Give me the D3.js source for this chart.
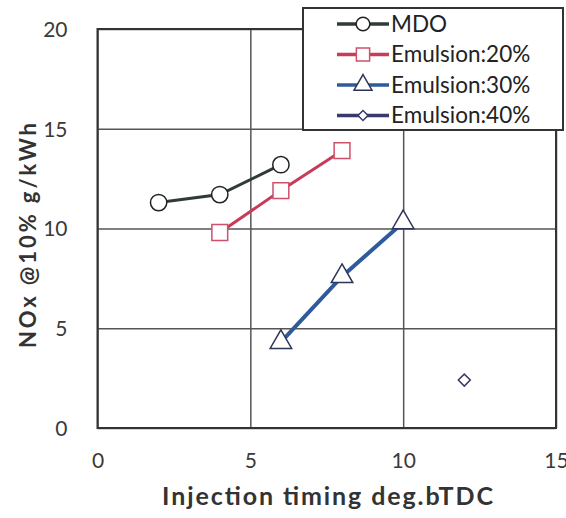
<!DOCTYPE html>
<html>
<head>
<meta charset="utf-8">
<script src="https://cdn.jsdelivr.net/npm/d3@7"></script>
<style>
    body { margin: 0; background: #fff; }
    .tick text { font-family: Lato, "Open Sans", sans-serif; font-size: 21px; fill: #3a3a3a; }
    .grid line { stroke: #555; stroke-width: 1.5; }
    .axisTitle { font-family: Lato, "Open Sans", sans-serif; font-weight: bold; fill: #333; }
    .legendText { font-family: Lato, "Open Sans", sans-serif; font-size: 22.5px; fill: #222; }
</style>
</head>
<body>
<script>
(function(){

    //data
    var seriesNames = ["MDO", "Emulsion:20%", "Emulsion:30%", "Emulsion:40%"];
    var mdoTiming = [2, 4, 6],
        mdoNox = [11.3, 11.7, 13.2];
    var em20Timing = [4, 6, 8],
        em20Nox = [9.8, 11.9, 13.9];
    var em30Timing = [6, 8, 10],
        em30Nox = [4.3, 7.6, 10.3];
    var em40Timing = [12],
        em40Nox = [2.4];
    var xTicks = [0, 5, 10, 15],
        yTicks = [0, 5, 10, 15, 20];

    //styles per series (diamond = square turned 45 deg)
    var lineColors = ["#2f3b38", "#c83c58", "#2f5a9c", "#3a3a6a"],
        markerColors = ["#222", "#d0506a", "#2e3558", "#3a3a6a"],
        markerTypes = [d3.symbolCircle, d3.symbolSquare, d3.symbolTriangle, d3.symbolSquare],
        markerRotate = [0, 0, 0, 45],
        markerSizes = [210, 250, 200, 72],
        lineWidths = [3, 3, 4, 3];

    var series = [
        {name: seriesNames[0], x: mdoTiming, y: mdoNox},
        {name: seriesNames[1], x: em20Timing, y: em20Nox},
        {name: seriesNames[2], x: em30Timing, y: em30Nox},
        {name: seriesNames[3], x: em40Timing, y: em40Nox}
    ];

    var width = 566,
        height = 518;

    var svg = d3.select("body")
        .append("svg")
        .attr("width", width)
        .attr("height", height);

    //plot area
    var left = 97.5, right = 556, top = 29, bottom = 428;

    var xScale = d3.scaleLinear()
        .domain([0, 15])
        .range([left, right]);

    var yScale = d3.scaleLinear()
        .domain([0, 20])
        .range([bottom, top]);

    //vertical grid and x labels
    var xAxis = svg.append("g")
        .attr("class", "grid")
        .attr("transform", "translate(0," + bottom + ")")
        .call(d3.axisBottom(xScale)
            .tickValues(xTicks)
            .tickSize(-(bottom - top))
            .tickPadding(25));
    xAxis.select(".domain").remove();

    //horizontal grid and y labels
    var yAxis = svg.append("g")
        .attr("class", "grid")
        .attr("transform", "translate(" + left + ",0)")
        .call(d3.axisLeft(yScale)
            .tickValues(yTicks)
            .tickSize(-(right - left))
            .tickPadding(30));
    yAxis.select(".domain").remove();
    yAxis.selectAll(".tick text").attr("dy", "0.35em");

    //plot frame
    svg.append("rect")
        .attr("x", left)
        .attr("y", top)
        .attr("width", right - left)
        .attr("height", bottom - top)
        .style("fill", "none")
        .style("stroke", "#333")
        .style("stroke-width", 2);

    var line = d3.line()
        .x(function(d){ return xScale(d[0]); })
        .y(function(d){ return yScale(d[1]); });

    //draw series lines and markers
    series.forEach(function(s, i){
        var pts = s.x.map(function(v, j){ return [v, s.y[j]]; });

        if (pts.length > 1){
            svg.append("path")
                .datum(pts)
                .attr("d", line)
                .style("fill", "none")
                .style("stroke", lineColors[i])
                .style("stroke-width", lineWidths[i]);
        };

        svg.selectAll(".m" + i)
            .data(pts)
            .enter()
            .append("path")
            .attr("class", "m" + i)
            .attr("transform", function(d){
                return "translate(" + xScale(d[0]) + "," + yScale(d[1]) + ") rotate(" + markerRotate[i] + ")";
            })
            .attr("d", d3.symbol().type(markerTypes[i]).size(markerSizes[i]))
            .style("fill", "#fff")
            .style("stroke", markerColors[i])
            .style("stroke-width", 1.5);
    });

    //legend box
    var legend = svg.append("g");

    legend.append("rect")
        .attr("x", 303)
        .attr("y", 8)
        .attr("width", 260)
        .attr("height", 122)
        .style("fill", "#fff")
        .style("stroke", "#333")
        .style("stroke-width", 2);

    var rows = legend.selectAll(".row")
        .data(series)
        .enter()
        .append("g")
        .attr("class", "row")
        .attr("transform", function(d, i){
            return "translate(0," + (24 + i * 30.5) + ")";
        });

    rows.append("line")
        .attr("x1", 337)
        .attr("x2", 389)
        .style("stroke", function(d, i){ return lineColors[i]; })
        .style("stroke-width", 3.5);

    rows.append("path")
        .attr("transform", function(d, i){
            return "translate(363,0) rotate(" + markerRotate[i] + ")";
        })
        .attr("d", function(d, i){
            return d3.symbol().type(markerTypes[i]).size(markerSizes[i] * 0.7)();
        })
        .style("fill", "#fff")
        .style("stroke", function(d, i){ return markerColors[i]; })
        .style("stroke-width", 1.5);

    rows.append("text")
        .attr("class", "legendText")
        .attr("x", 391)
        .attr("dy", "0.35em")
        .text(function(d){ return d.name; });

    //axis titles
    svg.append("text")
        .attr("class", "axisTitle")
        .attr("x", 162)
        .attr("y", 505)
        .style("font-size", "25px")
        .attr("textLength", 331)
        .attr("lengthAdjust", "spacing")
        .text("Injection timing  deg.bTDC");

    svg.append("text")
        .attr("class", "axisTitle")
        .attr("transform", "translate(36,348) rotate(-90)")
        .style("font-size", "22px")
        .attr("textLength", 225)
        .attr("lengthAdjust", "spacing")
        .text("NOx @10%  g/kWh");

})();
</script>
</body>
</html>
